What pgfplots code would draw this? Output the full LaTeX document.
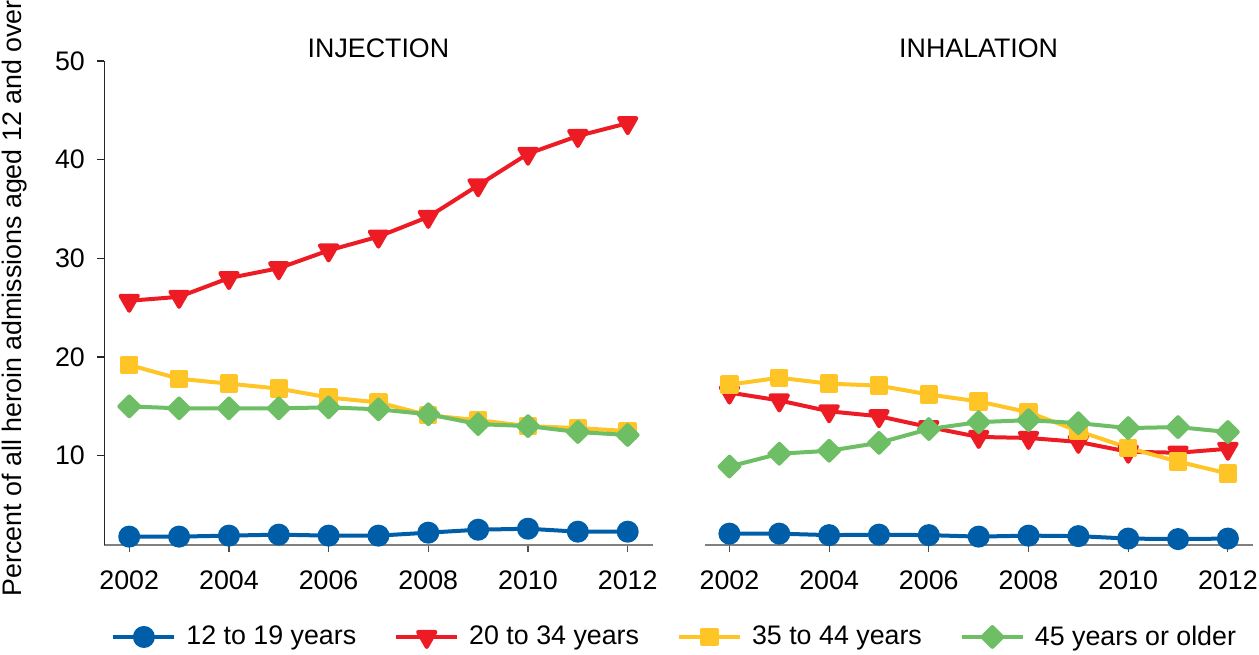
\documentclass[border=0pt]{standalone}
\usepackage{pgfplots}
\pgfplotsset{compat=1.18}
\usepackage{fontspec}
\setmainfont{Liberation Sans}
\definecolor{cblue}{RGB}{0,94,168}
\definecolor{cred}{RGB}{237,28,36}
\definecolor{cyellow}{RGB}{255,196,37}
\definecolor{cgreen}{RGB}{109,190,101}
\newcommand{\fsz}{\fontsize{13.4}{16}\selectfont}

\pgfplotstableread{
year  blue red  yellow green
2002  1.8  25.7 19.2  15.0
2003  1.8  26.1 17.8  14.8
2004  1.9  28.0 17.3  14.8
2005  2.0  29.0 16.8  14.8
2006  1.9  30.8 15.9  14.9
2007  1.9  32.2 15.4  14.7
2008  2.2  34.2 14.1  14.2
2009  2.5  37.4 13.6  13.2
2010  2.6  40.6 13.0  13.0
2011  2.3  42.4 12.8  12.4
2012  2.3  43.7 12.5  12.1
}\injection

\pgfplotstableread{
year  blue red  yellow green
2002  2.1  16.4 17.2  8.9
2003  2.1  15.6 17.9  10.2
2004  1.95 14.5 17.3  10.5
2005  2.0  14.0 17.1  11.3
2006  1.95 12.9 16.2  12.7
2007  1.8  11.9 15.5  13.4
2008  1.9  11.8 14.4  13.6
2009  1.85 11.4 12.5  13.3
2010  1.6  10.4 10.8  12.8
2011  1.55 10.3 9.4   12.9
2012  1.6  10.7 8.2   12.4
}\inhalation

\pgfplotsset{
  common/.style={
    anchor=south west, scale only axis,
    width=274.15pt, height=242pt,
    xmin=2001.5, xmax=2012.5, ymin=0.95, ymax=50,
    xtick={2002,2004,...,2012}, ytick={10,20,30,40,50},
    /pgf/number format/1000 sep={},
    /pgf/number format/assume math mode=true,
    tick align=outside, major tick length=3.5pt,
    axis x line*=bottom,
    x axis line style={draw=black!50, line width=0.8pt},
    xtick style={draw=black!70, line width=0.6pt},
    clip=false,
    ticklabel style={font=\fsz},
    xticklabel style={anchor=base, inner sep=0pt, yshift=-18.5pt},
    title style={font=\fsz, anchor=base, at={(axis description cs:0.5,1)}, yshift=-4.5pt},
    every axis plot/.append style={line width=2pt, line join=round},
    legend image code/.code={\draw[mark repeat=2,mark phase=2,##1] plot coordinates {(0pt,0pt) (15.25pt,0pt) (30.5pt,0pt)};},
  },
  sblue/.style={color=cblue, mark=*, mark size=4.5pt},
  sred/.style={color=cred, mark=triangle*, mark size=5pt, mark options={rotate=180}},
  syellow/.style={color=cyellow, mark=square*, mark size=3.6pt},
  sgreen/.style={color=cgreen, mark=square*, mark size=3.5pt, mark options={rotate=45}},
}

\begin{document}
\begin{tikzpicture}[font=\fsz]
\useasboundingbox (0,0) rectangle (629.5pt,327pt);
\begin{axis}[common,
  at={(52.15pt,54.5pt)},
  axis y line*=left,
  y axis line style={draw=black!85, line width=0.6pt},
  ytick style={draw=black!85, line width=0.6pt},
  yticklabel style={anchor=east, inner sep=0pt, xshift=-6pt},
  title={INJECTION},
  ylabel={Percent of all heroin admissions aged 12 and over},
  ylabel style={font=\fsz, at={(axis description cs:-0.1629,0.51)}, anchor=center, rotate=0},
  legend columns=4,
  legend cell align=left,
  legend style={at={(axis description cs:0.0122,-0.190)}, anchor=west,
    draw=none, fill=none, inner sep=0pt, font=\fsz,
    nodes={inner sep=0pt},
    /tikz/every odd column/.append style={column sep=5pt},
    /tikz/every even column/.append style={column sep=19pt}},
]
\addplot[sblue] table[x=year,y=blue] {\injection};
\addlegendentry{12 to 19 years}
\addplot[sred] table[x=year,y=red] {\injection};
\addlegendentry{20 to 34 years}
\addplot[syellow] table[x=year,y=yellow] {\injection};
\addlegendentry{35 to 44 years}
\addplot[sgreen] table[x=year,y=green] {\injection};
\addlegendentry{45 years or older}
\end{axis}

\begin{axis}[common,
  at={(352.25pt,54.5pt)},
  axis y line=none,
  title={INHALATION},
]
\addplot[sblue] table[x=year,y=blue] {\inhalation};
\addplot[sred] table[x=year,y=red] {\inhalation};
\addplot[syellow] table[x=year,y=yellow] {\inhalation};
\addplot[sgreen] table[x=year,y=green] {\inhalation};
\end{axis}
\end{tikzpicture}
\end{document}
